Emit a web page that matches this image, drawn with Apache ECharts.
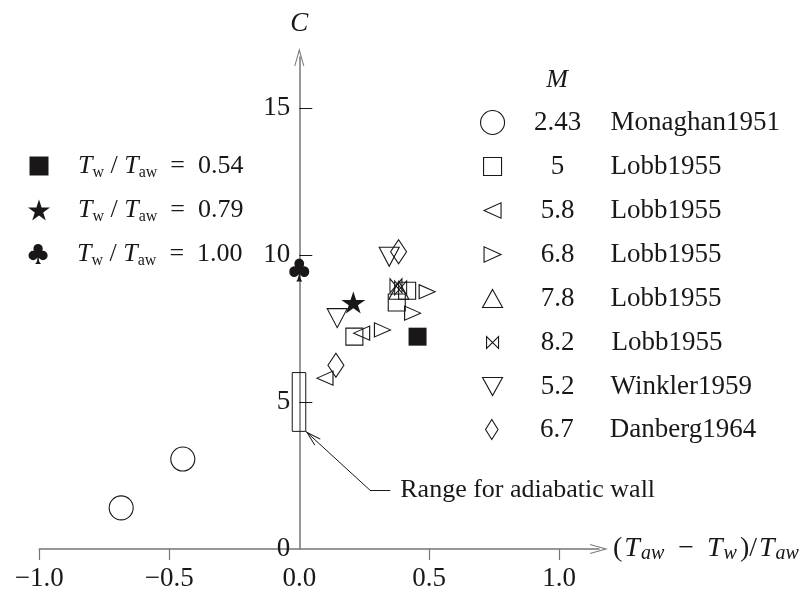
<!DOCTYPE html>
<html><head><meta charset="utf-8">
<script src="https://cdn.jsdelivr.net/npm/echarts@6/dist/echarts.min.js"></script>
<style>html,body{margin:0;padding:0;background:#fff}#c{width:809px;height:593px}</style>
</head><body><div id="c"></div>
<script>
// ---------------- data ----------------
const xTickValues = [-1.0, -0.5, 0.0, 0.5, 1.0];
const xTickMarks = [-1.0, -0.5, 0.5, 1.0];
const yTickValues = [0, 5, 10, 15];
const yTickMarks = [5, 10, 15];
const xMax = 1.153;
const yMax = 16.73;

const monaghan243 = [[-0.685, 1.40], [-0.448, 3.06]];
const lobb5 = [[0.212, 7.22], [0.375, 8.38], [0.415, 8.78]];
const lobb58 = [[0.099, 5.81], [0.240, 7.34]];
const lobb68 = [[0.320, 7.45], [0.436, 8.02], [0.492, 8.75]];
const lobb78 = [[0.383, 8.80]];
const lobb82 = [[0.372, 8.95], [0.390, 8.88]];
const winkler52 = [[0.146, 7.85], [0.346, 9.94]];
const danberg67 = [[0.141, 6.25], [0.382, 10.11]];
const tw054 = [[0.455, 7.22]];
const tw079 = [[0.208, 8.38]];
const tw100 = [[0.0, 9.49]];

const machLabels = ['2.43', '5', '5.8', '6.8', '7.8', '8.2', '5.2', '6.7'];
const sourceLabels = ['Monaghan1951', 'Lobb1955', 'Lobb1955', 'Lobb1955', 'Lobb1955', 'Lobb1955', 'Winkler1959', 'Danberg1964'];
const ratioLabels = ['0.54', '0.79', '1.00'];

const adiabaticC = [4, 6];
const adiabaticX = [-0.027, 0.025];
const noteText = 'Range for adiabatic wall';
const noteTip = [0.025, 4.0];
const noteElbow = [0.272, 2.0];
const noteEnd = [0.35, 2.0];

// ---------------- styling ----------------
const INK = '#1a1718';
const AXIS = '#767676';
const F = '"Liberation Serif", "Times New Roman", serif';
const FS = 27;
const ARROW = 'path://M5,0 L10,18 L9,18 L5,4 L1,18 L0,18 Z';
const SYM = {
  circle: 'circle',
  square: 'rect',
  left: 'path://M10,0 L10,9 L0,4.5 Z',
  right: 'path://M0,0 L0,9 L10,4.5 Z',
  up: 'path://M5,0 L10,9 L0,9 Z',
  down: 'path://M0,0 L10,0 L5,9 Z',
  bowtie: 'path://M0,0 L0,10 L10,0 L10,10 Z',
  diamond: 'path://M5,0 L10,8 L5,16 L0,8 Z',
  star: 'path://M50,0 L61.2,34.5 L97.6,34.5 L68.2,55.9 L79.4,90.5 L50,69.1 L20.6,90.5 L31.8,55.9 L2.4,34.5 L38.8,34.5 Z',
  club: 'path://M28,26 A22,22 0 1,1 72,26 A22,22 0 1,1 28,26 Z M5,58 A22,22 0 1,1 49,58 A22,22 0 1,1 5,58 Z M51,58 A22,22 0 1,1 95,58 A22,22 0 1,1 51,58 Z M50,30 L70,60 L50,70 L30,60 Z M54,60 Q50,85 64,98 L36,98 Q50,85 46,60 Z'
};
const hollowStyle = {color: 'rgba(255,255,255,0)', borderColor: INK, borderWidth: 1.1, opacity: 1};
const solidStyle = {color: INK, borderColor: INK, borderWidth: 0, opacity: 1};

const hollowDefs = [
  {data: monaghan243, symbol: SYM.circle, size: 24, icon: [24, 24]},
  {data: lobb5, symbol: SYM.square, size: 17, icon: [18, 18]},
  {data: lobb58, symbol: SYM.left, size: [16, 14], icon: [17, 16]},
  {data: lobb68, symbol: SYM.right, size: [16, 14], icon: [17, 16]},
  {data: lobb78, symbol: SYM.up, size: [20, 18], icon: [20, 20]},
  {data: lobb82, symbol: SYM.bowtie, size: [12, 14], icon: [12, 12]},
  {data: winkler52, symbol: SYM.down, size: [20, 19], icon: [20, 18]},
  {data: danberg67, symbol: SYM.diamond, size: [16, 24], icon: [14, 20]}
];
const solidDefs = [
  {data: tw054, symbol: SYM.square, size: 18, icon: [19, 19]},
  {data: tw079, symbol: SYM.star, size: [24, 22], icon: [22, 21]},
  {data: tw100, symbol: SYM.club, size: [20, 23], icon: [21, 20]}
];
const rightRowY = [124, 168, 212, 256, 300, 344, 388, 431];
const leftRowY = [168, 212, 256];

const series = [];
const legends = [];

hollowDefs.forEach((d, i) => {
  const name = sourceLabels[i] + ' ' + machLabels[i];
  series.push({type: 'scatter', name, data: d.data, symbol: d.symbol, symbolSize: d.size,
    itemStyle: hollowStyle, z: 3, silent: true});
  const w = d.icon[0], h = d.icon[1];
  const cx = 492, cy = rightRowY[i];
  const textStart = cx + w / 2 + 5;
  const mW = 2 * (557 - textStart);
  const sPad = Math.max(0, 610 - (textStart + mW));
  legends.push({
    show: true, left: cx - w / 2, top: cy - 15, padding: 0, itemWidth: w, itemHeight: h,
    selectedMode: false, data: [{name, icon: d.symbol}],
    itemStyle: {color: 'rgba(255,255,255,0)', borderColor: INK, borderWidth: 1.1, opacity: 1},
    formatter: () => '{m|' + machLabels[i] + '}{s|' + sourceLabels[i] + '}',
    textStyle: {rich: {
      m: {fontFamily: F, fontSize: FS, lineHeight: 30, width: mW, align: 'center', color: INK},
      s: {fontFamily: F, fontSize: FS, lineHeight: 30, padding: [0, 0, 0, sPad], color: INK}
    }}
  });
});

solidDefs.forEach((d, i) => {
  const name = 'Tw/Taw ' + ratioLabels[i];
  series.push({type: 'scatter', name, data: d.data, symbol: d.symbol, symbolSize: d.size,
    itemStyle: solidStyle, z: 4, silent: true});
  const w = d.icon[0], h = d.icon[1];
  const cx = 39, cy = leftRowY[i];
  const textStart = cx + w / 2 + 5;
  const pad = Math.max(0, 78 - textStart);
  legends.push({
    show: true, left: cx - w / 2, top: cy - 15, padding: 0, itemWidth: w, itemHeight: h,
    selectedMode: false, data: [{name, icon: d.symbol}],
    itemStyle: {color: INK, borderColor: INK, borderWidth: 0, opacity: 1},
    formatter: () => '{p|T}{sb|w}{n| / }{i|T}{sb|aw}{n|  =  ' + ratioLabels[i] + '}',
    textStyle: {rich: {
      p: {fontFamily: F, fontSize: 26, fontStyle: 'italic', lineHeight: 30, padding: [0, 0, 0, pad], color: INK},
      i: {fontFamily: F, fontSize: 26, fontStyle: 'italic', lineHeight: 30, color: INK},
      sb: {fontFamily: F, fontSize: 16, lineHeight: 9, verticalAlign: 'bottom', color: INK},
      n: {fontFamily: F, fontSize: 26, lineHeight: 30, color: INK}
    }}
  });
});

// annotation: adiabatic-wall range box, leader line and its text
series.push({
  type: 'scatter', name: 'note', data: [noteEnd], symbolSize: 0, silent: true, z: 2,
  itemStyle: {opacity: 1},
  label: {show: true, position: 'right', distance: 10, formatter: noteText,
    fontFamily: F, fontSize: FS - 1, color: INK, opacity: 1},
  markArea: {silent: true, label: {show: false},
    itemStyle: {color: 'rgba(0,0,0,0)', borderColor: INK, borderWidth: 1, opacity: 1},
    data: [[{coord: [adiabaticX[0], adiabaticC[0]]}, {coord: [adiabaticX[1], adiabaticC[1]]}]]},
  markLine: {silent: true, symbol: 'none', label: {show: false},
    lineStyle: {color: INK, width: 1, type: 'solid', opacity: 1},
    emphasis: {disabled: true},
    data: [
      [{coord: noteElbow, symbol: 'none'}, {coord: noteTip, symbol: ARROW, symbolSize: [9, 16], symbolOffset: [0, 8]}],
      [{coord: noteElbow, symbol: 'none'}, {coord: noteEnd, symbol: 'none'}]
    ]}
});

const fmtX = v => (v < 0 ? '\u2212' : '') + Math.abs(v).toFixed(1);

const option = {
  animation: false,
  backgroundColor: '#fff',
  grid: {left: 39.3, right: 210, top: 57, bottom: 44, containLabel: false},
  xAxis: {
    type: 'value', min: -1, max: xMax,
    axisLine: {show: true, onZero: true, lineStyle: {color: AXIS, width: 1.5},
      symbol: ['none', ARROW], symbolSize: [10, 18]},
    axisTick: {show: true, inside: false, length: 11, lineStyle: {color: AXIS, width: 1.2}, customValues: xTickMarks},
    axisLabel: {customValues: xTickValues, formatter: fmtX, fontFamily: F, fontSize: FS, color: INK, margin: 16},
    splitLine: {show: false},
    name: '{n|(}{i|T}{si|aw}{m|\u2212}{i|T}{si|w}{n|)/}{i|T}{si|aw}',
    nameLocation: 'end', nameGap: 14,
    nameTextStyle: {rich: {
      n: {fontFamily: F, fontSize: 28, lineHeight: 30, color: INK},
      m: {fontFamily: F, fontSize: 28, lineHeight: 30, padding: [0, 11, 0, 11], color: INK},
      i: {fontFamily: F, fontSize: 28, fontStyle: 'italic', lineHeight: 30, padding: [0, 1, 0, 2], color: INK},
      si: {fontFamily: F, fontSize: 20, fontStyle: 'italic', lineHeight: 12, verticalAlign: 'bottom', padding: [0, 3, 0, 0], color: INK}
    }}
  },
  yAxis: {
    type: 'value', min: 0, max: yMax, offset: -260,
    axisLine: {show: true, onZero: false, lineStyle: {color: AXIS, width: 1.5},
      symbol: ['none', ARROW], symbolSize: [10, 18]},
    axisTick: {show: true, inside: true, length: 13, lineStyle: {color: INK, width: 1}, customValues: yTickMarks},
    axisLabel: {customValues: yTickValues, fontFamily: F, fontSize: FS, color: INK, margin: 9},
    splitLine: {show: false},
    name: 'C', nameLocation: 'end', nameGap: 20,
    nameTextStyle: {fontFamily: F, fontSize: FS, fontStyle: 'italic', color: INK}
  },
  legend: legends,
  graphic: [{type: 'text', x: 557, y: 80, silent: true,
    style: {text: 'M', fontFamily: F, fontStyle: 'italic', fontSize: 26, fill: INK, align: 'center', verticalAlign: 'middle'}}],
  series
};

const chart = echarts.init(document.getElementById('c'), null, {renderer: 'canvas'});
chart.setOption(option);
</script>
</body></html>
